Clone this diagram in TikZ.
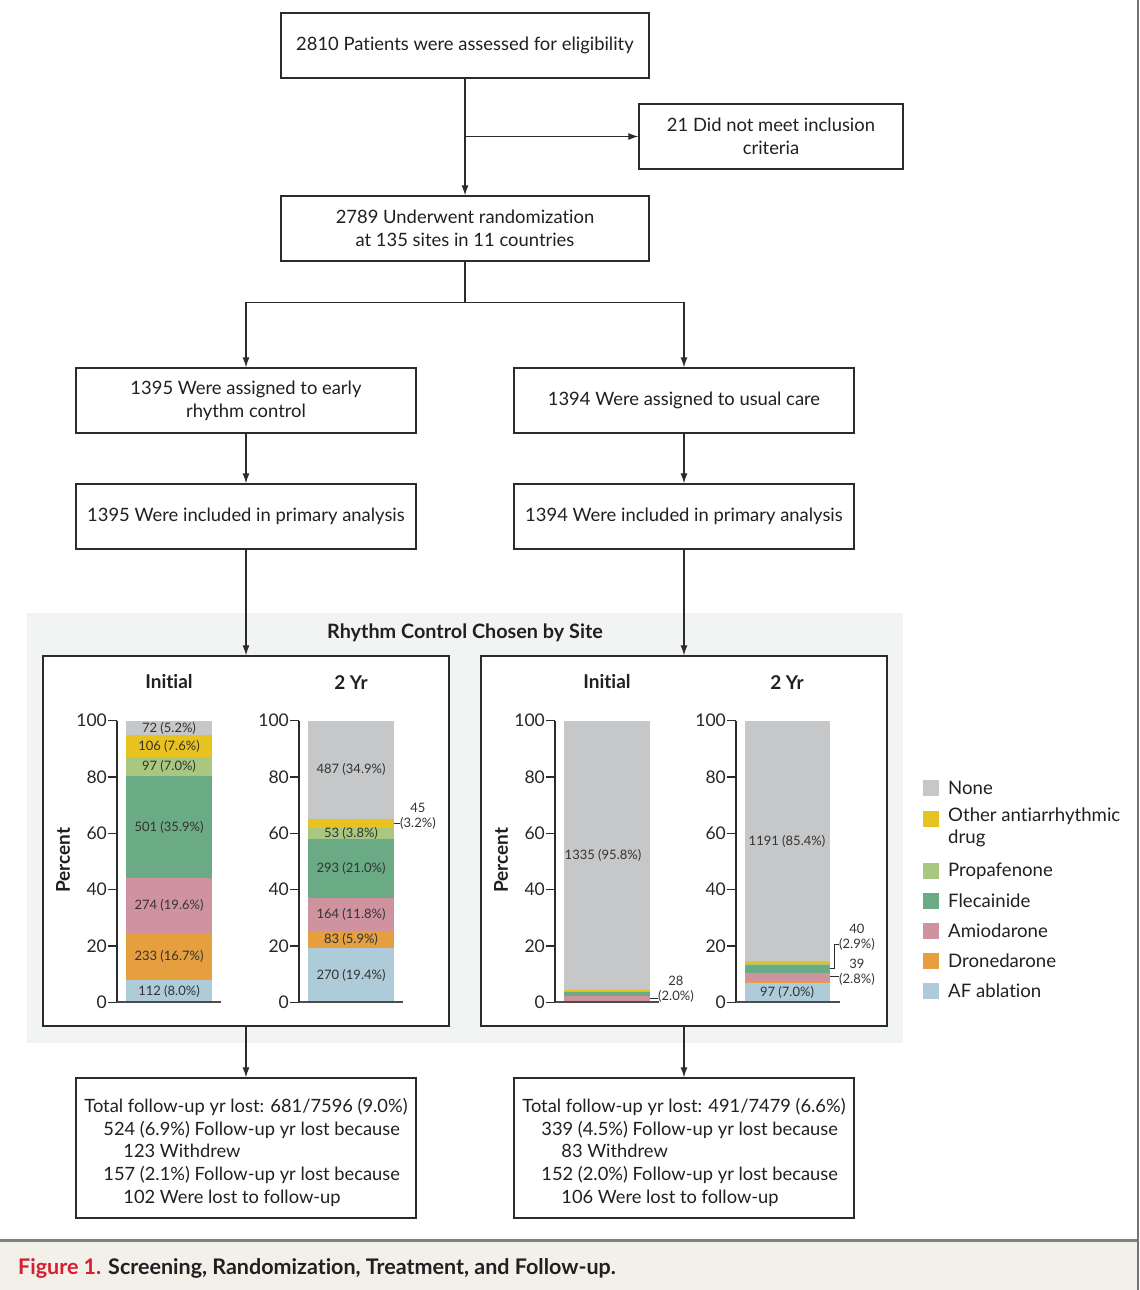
\documentclass[tikz,border=0pt]{standalone}
\usepackage{fontspec}
\setmainfont{Lato}[Ligatures=NoCommon]
\usetikzlibrary{arrows.meta}
\definecolor{txt}{HTML}{231F20}
\definecolor{line}{HTML}{2B2B2B}
\definecolor{cNone}{HTML}{C6C7C9}
\definecolor{cOth}{HTML}{E8C21E}
\definecolor{cPro}{HTML}{A8C77F}
\definecolor{cFle}{HTML}{6AAA84}
\definecolor{cAmi}{HTML}{CF939F}
\definecolor{cDro}{HTML}{E59F3F}
\definecolor{cAbl}{HTML}{AECBDA}
\definecolor{panel}{HTML}{F2F4F3}
\definecolor{capbg}{HTML}{F3F0EA}
\definecolor{capred}{HTML}{D51E2F}
\newcommand{\fs}[1]{\fontsize{#1}{#1}\selectfont}
% y position of a percentage
\newcommand{\py}[1]{1002.3-2.816*(#1)}
\newcommand{\stackbar}[3]{%
  \gdef\mycum{0}%
  \foreach \p/\c in {#3} {%
    \pgfmathsetmacro\mytop{\mycum+\p}%
    \fill[\c] (#1,{\py{\mycum}}) rectangle (#2,{\py{\mytop}});%
    \xdef\mycum{\mytop}%
  }%
}
\newcommand{\chartaxis}[1]{%
  \draw[axis] (#1,720.7) -- (#1,1002.3);
  \draw[base] (#1,1002.3) -- ({#1+104},1002.3);
  \foreach \v in {0,20,...,100} {
    \draw[axis] ({#1-9},{\py{\v}}) -- (#1,{\py{\v}});
    \node[ticklab] (tl-#1-\v) at ({#1-9},{\py{\v}}) {\v};
  }
}
\tikzset{
  every node/.style={text=txt},
  box/.style={draw=line, line width=1.3pt, fill=white, align=center, inner sep=0pt,
    font=\fontsize{18.4}{23}\selectfont},
  lostbox/.style={box, align=left, font=\fontsize{18.3}{22.8}\selectfont},
  arr/.style={-{Latex[length=10pt,width=7pt]}, line width=1.2pt, draw=line},
  axis/.style={line width=1.3pt, draw=line},
  base/.style={line width=2pt, draw=black!70},
  ticklab/.style={anchor=east, inner sep=1pt, font=\fs{17.5}, text=black!85},
  seglab/.style={font=\fs{13}, text=black!80, inner sep=0pt},
  sidelab/.style={font=\fs{13}, text=black!80, inner sep=0pt},
  ctitle/.style={font=\bfseries\fs{19}},
  leglab/.style={anchor=west, font=\fontsize{18.6}{22}\selectfont, align=left, inner sep=0pt},
  legsq/.style={minimum size=16pt, inner sep=0pt},
  lead/.style={line width=1pt, draw=line},
}
\begin{document}
\begin{tikzpicture}[x=1pt,y=-1pt]
\useasboundingbox (0,0) rectangle (1140,1290);
% frame and caption
\fill[capbg] (0,1240) rectangle (1137,1290);
\draw[line width=3pt, draw=black!50] (0,1240) -- (1138,1240);
\draw[line width=2pt, draw=black!55] (1138,0) -- (1138,1290);
\node[anchor=west, inner sep=0pt, font=\bfseries\fs{21.5}] (caption) at (18,1268)
  {\textcolor{capred}{Figure 1.} Screening, Randomization, Treatment, and Follow-up.};
% gray panel
\fill[panel] (27,613) rectangle (903,1043);
\node[font=\bfseries\fs{19.8}] (ptitle) at (465,633) {Rhythm Control Chosen by Site};
% flow boxes
\node[box, minimum width=368, minimum height=65] (assess) at (465,45.5) {2810 Patients were assessed for eligibility};
\node[box, minimum width=264, minimum height=65] (excl) at (771,136.5) {21 Did not meet inclusion\\criteria};
\node[box, minimum width=368, minimum height=65] (rand) at (465,228.5) {2789 Underwent randomization\\at 135 sites in 11 countries};
\node[box, minimum width=340, minimum height=65] (early) at (246,400.5) {1395 Were assigned to early\\rhythm control};
\node[box, minimum width=340, minimum height=65] (usual) at (684,400.5) {1394 Were assigned to usual care};
\node[box, minimum width=340, minimum height=65] (inclL) at (246,516.5) {1395 Were included in primary analysis};
\node[box, minimum width=340, minimum height=65] (inclR) at (684,516.5) {1394 Were included in primary analysis};
\node[box, minimum width=406, minimum height=370] (chartL) at (246,841) {};
\node[box, minimum width=406, minimum height=370] (chartR) at (684,841) {};
\node[lostbox, minimum width=340, minimum height=140] (lostL) at (246,1148) {%
  \rule{0pt}{23pt}Total follow-up yr lost: 681/7596 (9.0\%)\\
  \hspace*{19pt}524 (6.9\%) Follow-up yr lost because\\
  \hspace*{39pt}123 Withdrew\\
  \hspace*{19pt}157 (2.1\%) Follow-up yr lost because\\
  \hspace*{39pt}102 Were lost to follow-up};
\node[lostbox, minimum width=340, minimum height=140] (lostR) at (684,1148) {%
  \rule{0pt}{23pt}Total follow-up yr lost: 491/7479 (6.6\%)\\
  \hspace*{19pt}339 (4.5\%) Follow-up yr lost because\\
  \hspace*{39pt}83 Withdrew\\
  \hspace*{19pt}152 (2.0\%) Follow-up yr lost because\\
  \hspace*{39pt}106 Were lost to follow-up};
% connectors
\draw[arr] (assess.south) -- (rand.north);
\draw[arr] (assess.south |- excl.west) -- (excl.west);
\draw[line width=1.2pt, draw=line] (rand.south) -- ++(0,41) coordinate (split);
\draw[arr] (split) -| (early.north);
\draw[arr] (split) -| (usual.north);
\draw[arr] (early.south) -- (inclL.north);
\draw[arr] (usual.south) -- (inclR.north);
\draw[arr] (inclL.south) -- (chartL.north);
\draw[arr] (inclR.south) -- (chartR.north);
\draw[arr] (chartL.south) -- (lostL.north);
\draw[arr] (chartR.south) -- (lostR.north);
% ---------- bars ----------
\stackbar{126}{212}{8.0/cAbl,16.7/cDro,19.6/cAmi,35.9/cFle,7.0/cPro,7.6/cOth,5.2/cNone}
\stackbar{308}{394}{19.4/cAbl,5.9/cDro,11.8/cAmi,21.0/cFle,3.8/cPro,3.2/cOth,34.9/cNone}
\stackbar{564}{650}{0.1/cAbl,0.1/cDro,2.0/cAmi,1.5/cFle,0.4/cPro,0.1/cOth,95.8/cNone}
\stackbar{745}{830}{7.0/cAbl,0.6/cDro,2.8/cAmi,2.9/cFle,0.8/cPro,0.5/cOth,85.4/cNone}
\chartaxis{117}
\chartaxis{299}
\chartaxis{555}
\chartaxis{736}
% titles
\node[ctitle] (tiL) at (169,682) {Initial};
\node[ctitle] (t2L) at (351,683) {2 Yr};
\node[ctitle] (tiR) at (607,682) {Initial};
\node[ctitle] (t2R) at (787,683) {2 Yr};
\node[ctitle, rotate=90] (pctL) at (63,860) {Percent};
\node[ctitle, rotate=90] (pctR) at (501,860) {Percent};
% segment labels left initial
\node[seglab] (a1) at (169,{\py{4.0}}) {112 (8.0\%)};
\node[seglab] (a2) at (169,{\py{16.35}}) {233 (16.7\%)};
\node[seglab] (a3) at (169,{\py{34.5}}) {274 (19.6\%)};
\node[seglab] (a4) at (169,{\py{62.25}}) {501 (35.9\%)};
\node[seglab] (a5) at (169,{\py{83.7}}) {97 (7.0\%)};
\node[seglab] (a6) at (169,{\py{91.0}}) {106 (7.6\%)};
\node[seglab] (a7) at (169,{\py{97.4}}) {72 (5.2\%)};
% left 2 yr
\node[seglab] (b1) at (351,{\py{9.7}}) {270 (19.4\%)};
\node[seglab] (b2) at (351,{\py{22.35}}) {83 (5.9\%)};
\node[seglab] (b3) at (351,{\py{31.2}}) {164 (11.8\%)};
\node[seglab] (b4) at (351,{\py{47.6}}) {293 (21.0\%)};
\node[seglab] (b5) at (351,{\py{60.1}}) {53 (3.8\%)};
\node[seglab] (b7) at (351,{\py{82.55}}) {487 (34.9\%)};
\coordinate (b6end) at (394,{\py{63.5}});
\node[sidelab, anchor=west] (b6) at (400,{\py{63.5}}) {(3.2\%)};
\node[sidelab] (b6n) at (b6.north) [anchor=south, yshift=4pt] {45};
\draw[lead] (b6end) -- (b6.west);
% right initial
\node[seglab] (c7) at (603,{\py{52.1}}) {1335 (95.8\%)};
\coordinate (c3end) at (650,{\py{1.2}});
\node[sidelab, anchor=west] (c3) at (658,996) {(2.0\%)};
\node[sidelab] (c3n) at (c3.north) [anchor=south, yshift=4pt] {28};
\draw[lead] (c3end) -- (658,{\py{1.2}});
% right 2 yr
\node[seglab] (d1) at (787,{\py{3.5}}) {97 (7.0\%)};
\node[seglab] (d7) at (787,{\py{57.3}}) {1191 (85.4\%)};
\node[sidelab, anchor=west] (d4) at (839,944) {(2.9\%)};
\node[sidelab] (d4n) at (d4.north) [anchor=south, yshift=4pt] {40};
\node[sidelab, anchor=west] (d3) at (839,979) {(2.8\%)};
\node[sidelab] (d3n) at (d3.north) [anchor=south, yshift=4pt] {39};
\coordinate (d4end) at (830,{\py{11.85}});
\coordinate (d3end) at (830,{\py{9.0}});
\draw[lead] (d4end) -- ++(4,0) |- (d4.west);
\draw[lead] (d3end) -- (d3.west |- d3end);
% legend
\foreach \y/\c/\t/\n in {788/cNone/None/l1,871/cPro/Propafenone/l3,901/cFle/Flecainide/l4,931/cAmi/Amiodarone/l5,961/cDro/Dronedarone/l6,991/cAbl/AF ablation/l7} {
  \node[legsq, fill=\c] (sq\n) at (931,\y) {};
  \node[leglab] (tx\n) at (948,\y) {\t};
}
\node[legsq, fill=cOth] (sql2) at (931,819) {};
\node[leglab, anchor=north west] (txl2) at (948,808) {Other antiarrhythmic\\drug};
\end{tikzpicture}
\end{document}
